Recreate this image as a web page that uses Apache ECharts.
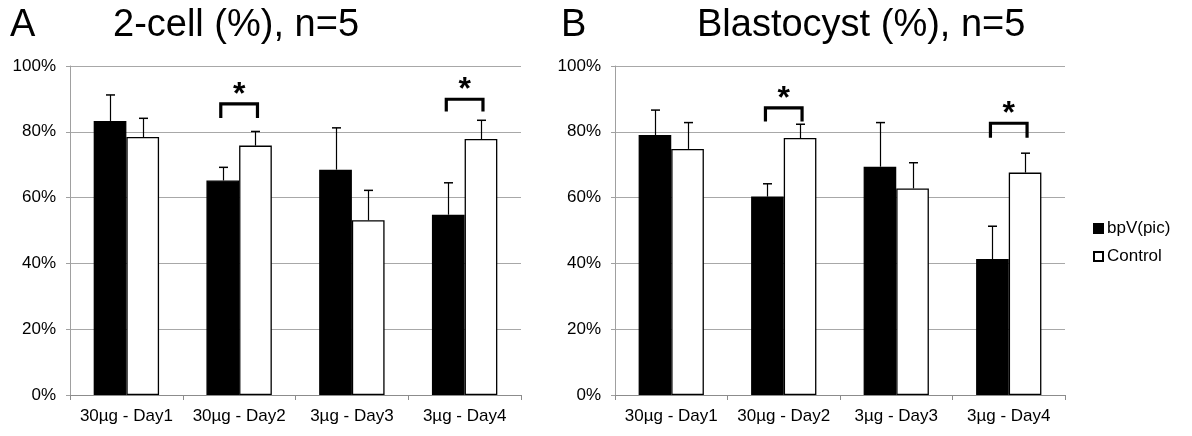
<!DOCTYPE html>
<html>
<head>
<meta charset="utf-8">
<script src="https://cdn.jsdelivr.net/npm/echarts@6/dist/echarts.min.js"></script>
<style>
html,body{margin:0;padding:0;background:#fff;}
#chart{width:1192px;height:436px;}
</style>
</head>
<body>
<div id="chart"></div>
<script>
// ---------- data ----------
const categories = ['30µg - Day1', '30µg - Day2', '3µg - Day3', '3µg - Day4'];
const yTicks = [0, 20, 40, 60, 80, 100];
const seriesNames = ['bpV(pic)', 'Control'];

// Panel A: 2-cell (%)
const cellBpv = [83.3, 65.2, 68.5, 54.8];
const cellBpvErr = [7.9, 4.0, 12.7, 9.7];
const cellCtrl = [78.4, 75.8, 53.1, 77.8];
const cellCtrlErr = [5.7, 4.3, 9.1, 5.7];
const cellSigTop = [null, 88.5, null, 89.9];
const cellSigLeg = [null, 84.2, null, 86.2];

// Panel B: Blastocyst (%)
const blastBpv = [79.0, 60.3, 69.4, 41.3];
const blastBpvErr = [7.6, 3.9, 13.4, 10.0];
const blastCtrl = [74.8, 78.1, 62.8, 67.6];
const blastCtrlErr = [8.0, 4.2, 7.8, 5.9];
const blastSigTop = [null, 87.3, null, 82.6];
const blastSigLeg = [null, 83.1, null, 78.2];

// ---------- chart ----------
const BAR_FRAC = 0.29;
const FONT = '"Liberation Sans", Arial, sans-serif';

function errSeries(vals, errs, side, axisIdx) {
  return {
    type: 'custom',
    xAxisIndex: axisIdx, yAxisIndex: axisIdx,
    silent: true, z: 5,
    data: vals.map((v, i) => [i, v, v + errs[i]]),
    renderItem: function (params, api) {
      const band = api.size([1, 0])[0];
      const off = side * band * BAR_FRAC / 2;
      const p0 = api.coord([api.value(0), api.value(1)]);
      const p1 = api.coord([api.value(0), api.value(2)]);
      const x = Math.round(p0[0] + off) + 0.5;
      return {
        type: 'group',
        children: [
          { type: 'line', shape: { x1: x, y1: p0[1], x2: x, y2: p1[1] }, style: { stroke: '#000', lineWidth: 1.2 } },
          { type: 'line', shape: { x1: x - 4.5, y1: p1[1], x2: x + 4.5, y2: p1[1] }, style: { stroke: '#000', lineWidth: 1.5 } }
        ]
      };
    }
  };
}

function sigSeries(tops, legs, axisIdx) {
  const data = [];
  tops.forEach((t, i) => { if (t != null) data.push([i, t, legs[i]]); });
  return {
    type: 'custom',
    xAxisIndex: axisIdx, yAxisIndex: axisIdx,
    silent: true, z: 6,
    data: data,
    renderItem: function (params, api) {
      const band = api.size([1, 0])[0];
      const off = band * BAR_FRAC / 2;
      const pt = api.coord([api.value(0), api.value(1)]);
      const pl = api.coord([api.value(0), api.value(2)]);
      const xl = pt[0] - off - 2, xr = pt[0] + off + 2;
      return {
        type: 'group',
        children: [
          { type: 'polyline', shape: { points: [[xl, pl[1]], [xl, pt[1]], [xr, pt[1]], [xr, pl[1]]] },
            style: { stroke: '#000', lineWidth: 3.2, fill: null, lineJoin: 'miter' } },
          { type: 'text', x: pt[0], y: pt[1] - 9,
            style: { text: '*', fill: '#000', font: 'bold 32px ' + FONT, align: 'center', verticalAlign: 'middle' } }
        ]
      };
    }
  };
}

function barSeries(name, vals, axisIdx, fill) {
  return {
    name: name, type: 'bar',
    xAxisIndex: axisIdx, yAxisIndex: axisIdx,
    data: vals,
    barWidth: (BAR_FRAC * 100) + '%',
    barGap: '0%',
    itemStyle: { color: fill, borderColor: '#000', borderWidth: 1.3 },
    emphasis: { disabled: true },
    z: 3
  };
}

const grids = [
  { left: 70, top: 66, width: 451, height: 329 },
  { left: 615, top: 66, width: 450, height: 329 }
];

function xAxis(idx) {
  return {
    type: 'category', gridIndex: idx, data: categories,
    axisLine: { lineStyle: { color: '#8c8c8c', width: 1 } },
    axisTick: { show: true, alignWithLabel: false, length: 5, inside: false, lineStyle: { color: '#8c8c8c' } },
    axisLabel: { color: '#000', fontSize: 17, fontFamily: FONT, margin: 13, interval: 0 },
    splitLine: { show: false }
  };
}
function yAxis(idx) {
  return {
    type: 'value', gridIndex: idx,
    min: yTicks[0], max: yTicks[yTicks.length - 1], interval: yTicks[1] - yTicks[0],
    axisLine: { show: true, lineStyle: { color: '#a0a0a0', width: 1 } },
    axisTick: { show: true, length: 4, inside: false, lineStyle: { color: '#a0a0a0' } },
    axisLabel: { color: '#000', fontSize: 17, fontFamily: FONT, margin: 14, formatter: '{value}%' },
    splitLine: { show: true, lineStyle: { color: '#a8a8a8', width: 1 } }
  };
}

const titleStyle = { fontSize: 38, fontWeight: 'normal', color: '#000', fontFamily: FONT };
const chart = echarts.init(document.getElementById('chart'), null, { renderer: 'canvas' });
chart.setOption({
  backgroundColor: '#fff',
  animation: false,
  title: [
    { text: 'A', left: 10, top: 7, padding: 0, textStyle: titleStyle },
    { text: '2-cell (%), n=5', left: 113, top: 7, padding: 0, textStyle: titleStyle },
    { text: 'B', left: 561, top: 7, padding: 0, textStyle: titleStyle },
    { text: 'Blastocyst (%), n=5', left: 697, top: 7, padding: 0, textStyle: titleStyle }
  ],
  legend: {
    data: seriesNames,
    orient: 'vertical',
    left: 1093, top: 220,
    itemWidth: 9, itemHeight: 9, itemGap: 11,
    icon: 'rect',
    padding: 0,
    textStyle: { color: '#000', fontSize: 17, fontFamily: FONT, padding: [0, 0, 0, -1] },
    selectedMode: false
  },
  grid: grids,
  xAxis: [xAxis(0), xAxis(1)],
  yAxis: [yAxis(0), yAxis(1)],
  series: [
    barSeries(seriesNames[0], cellBpv, 0, '#000'),
    barSeries(seriesNames[1], cellCtrl, 0, '#fff'),
    barSeries(seriesNames[0], blastBpv, 1, '#000'),
    barSeries(seriesNames[1], blastCtrl, 1, '#fff'),
    errSeries(cellBpv, cellBpvErr, -1, 0),
    errSeries(cellCtrl, cellCtrlErr, 1, 0),
    errSeries(blastBpv, blastBpvErr, -1, 1),
    errSeries(blastCtrl, blastCtrlErr, 1, 1),
    sigSeries(cellSigTop, cellSigLeg, 0),
    sigSeries(blastSigTop, blastSigLeg, 1)
  ]
});
</script>
</body>
</html>
